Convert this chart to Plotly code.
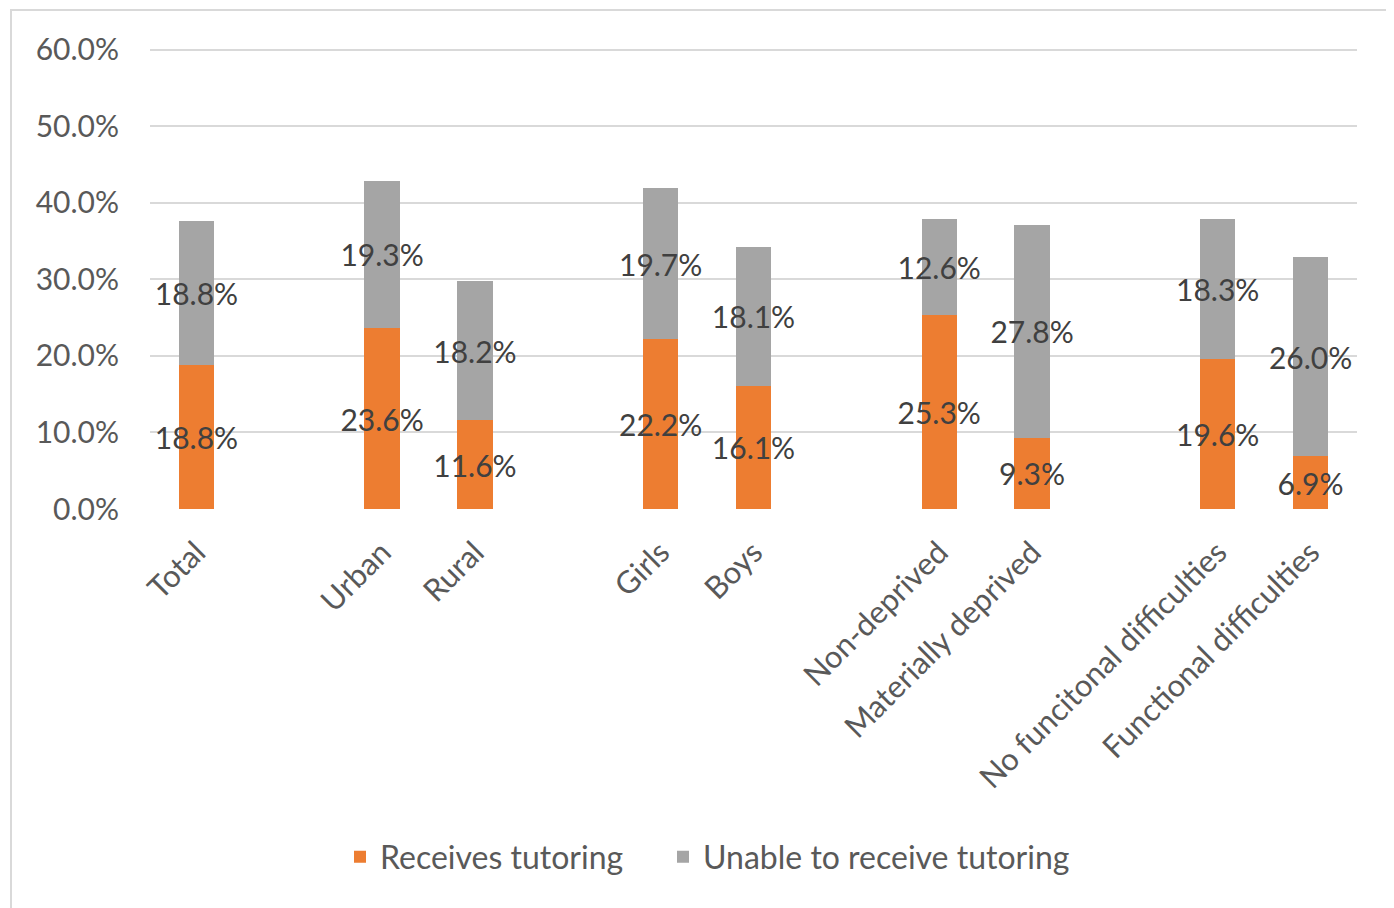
import plotly.graph_objects as go

categories = ["Total", "Urban", "Rural", "Girls", "Boys", "Non-deprived",
              "Materially deprived", "No funcitonal difficulties", "Functional difficulties"]
# axis order with empty slots separating the groups
axis_order = ["Total", " ", "Urban", "Rural", "  ", "Girls", "Boys", "   ",
              "Non-deprived", "Materially deprived", "    ",
              "No funcitonal difficulties", "Functional difficulties"]
receives = [18.8, 23.6, 11.6, 22.2, 16.1, 25.3, 9.3, 19.6, 6.9]
unable = [18.8, 19.3, 18.2, 19.7, 18.1, 12.6, 27.8, 18.3, 26.0]
series_names = ["Receives tutoring", "Unable to receive tutoring"]
y_ticks = [0, 10, 20, 30, 40, 50, 60]
y_tick_labels = ["0.0%", "10.0%", "20.0%", "30.0%", "40.0%", "50.0%", "60.0%"]

FONT = "Lato"
OFF = 8  # page body margin
W, H = 1394 - OFF, 908 - OFF
L, T = 150 - OFF, 34
pw, ph = 1207, 467
R = W - L - pw
B = H - T - ph

def px_x(x):
    return (x - OFF - L) / pw

def px_y(y):
    return (T + ph - (y - OFF)) / ph

fig = go.Figure()
for name, vals, color, leg in [(series_names[0], receives, "#ed7d31", "legend"),
                               (series_names[1], unable, "#a5a5a5", "legend2")]:
    fig.add_trace(go.Bar(
        x=categories, y=vals, name=name, legend=leg, showlegend=True,
        marker=dict(color=color, line=dict(width=0)),
        width=0.38,
        texttemplate="%{y:.1f}%",
        textposition="inside",
        insidetextanchor="middle",
        textangle=0,
        constraintext="none",
        cliponaxis=False,
        insidetextfont=dict(family=FONT, size=30, color="#404040"),
    ))

leg_common = dict(
    orientation="h", yanchor="middle", y=px_y(857), xanchor="left",
    font=dict(family=FONT, size=32, color="#595959"),
    itemwidth=30, bgcolor="rgba(0,0,0,0)",
)

fig.update_layout(
    width=W, height=H,
    barmode="stack",
    showlegend=True,
    plot_bgcolor="white", paper_bgcolor="white",
    margin=dict(l=L, r=R, t=T, b=B),
    font=dict(family=FONT, color="#595959"),
    xaxis=dict(
        type="category", categoryorder="array", categoryarray=axis_order,
        range=[-0.5, len(axis_order) - 0.5],
        tickangle=-45, tickfont=dict(family=FONT, size=31, color="#595959"),
        ticklabelstandoff=18,
        showgrid=False, showline=False, ticks="", zeroline=False,
    ),
    yaxis=dict(
        range=[0, 61], tickvals=y_ticks, ticktext=y_tick_labels,
        tickfont=dict(family=FONT, size=30, color="#595959"),
        ticklabelstandoff=30,
        showgrid=True, gridcolor="#d9d9d9", gridwidth=2,
        zeroline=False, showline=False, ticks="",
    ),
    legend=dict(x=px_x(340), **leg_common),
    legend2=dict(x=px_x(663), **leg_common),
    shapes=[dict(
        type="rect", xref="paper", yref="paper",
        x0=px_x(11), x1=px_x(1420),
        y0=px_y(930), y1=px_y(10),
        line=dict(color="#d9d9d9", width=2), fillcolor="rgba(0,0,0,0)",
        layer="below",
    )],
)

fig.write_html("out.html")
